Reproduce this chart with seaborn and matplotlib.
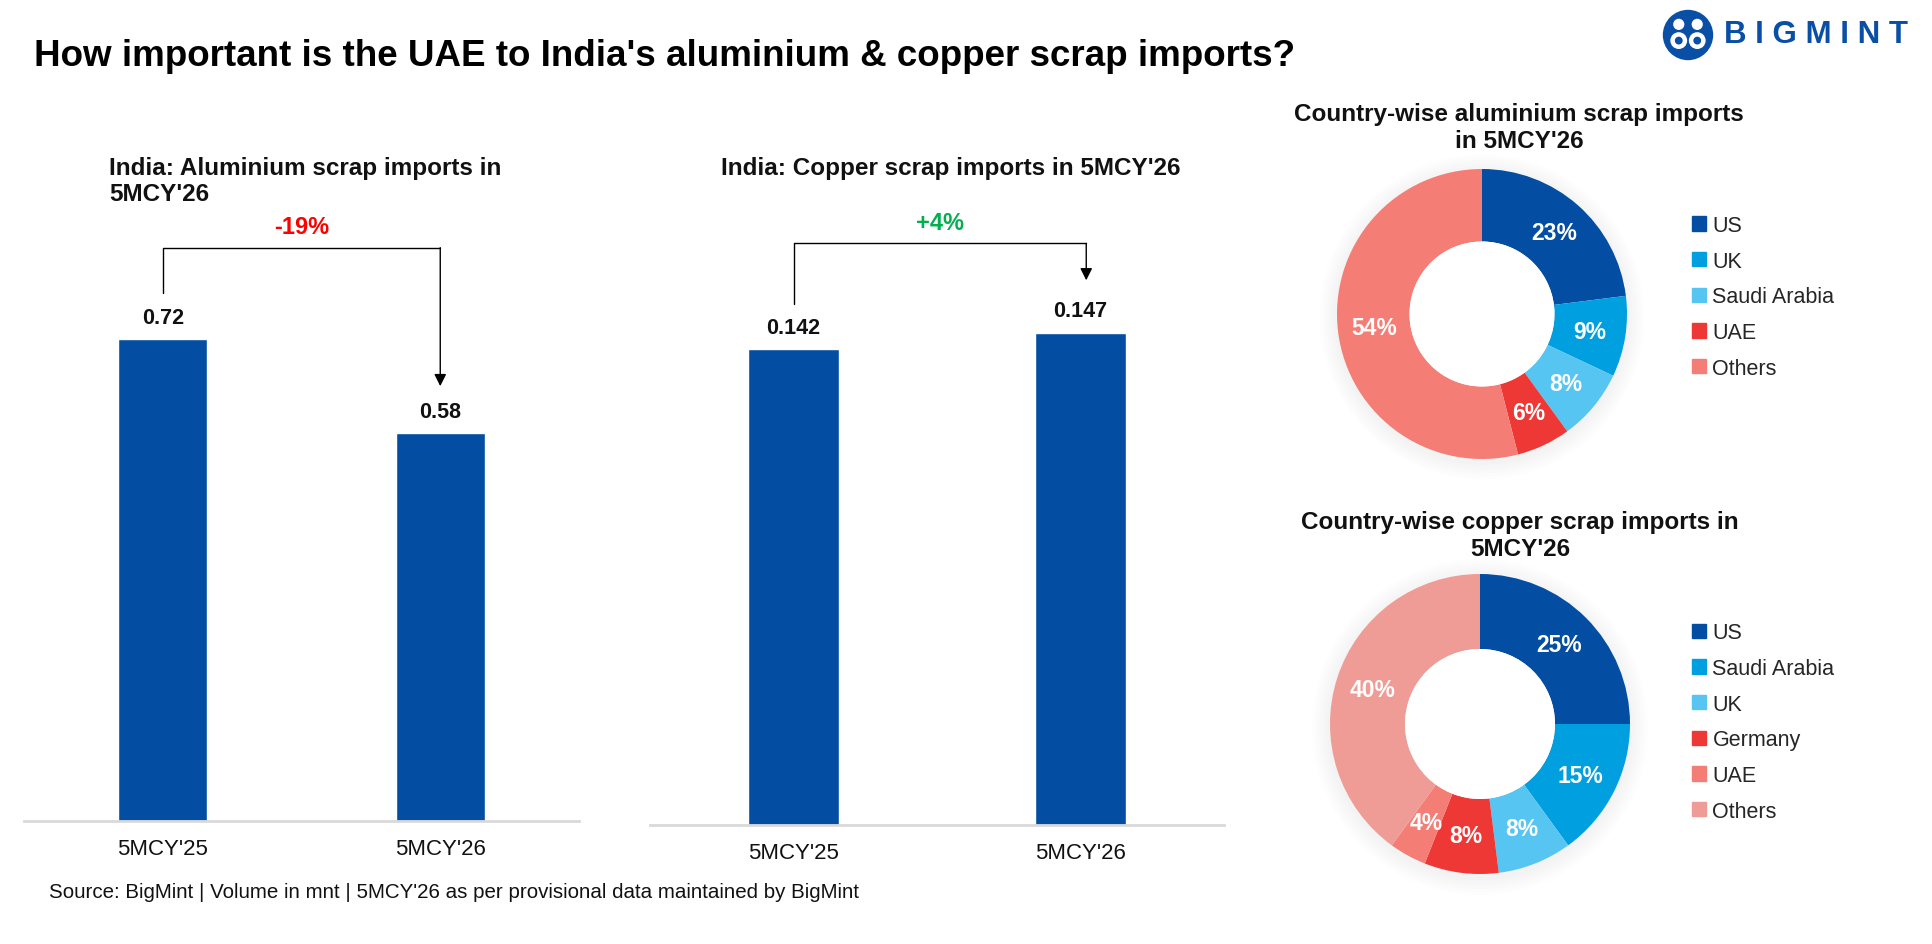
import matplotlib
matplotlib.use('Agg')
import matplotlib.pyplot as plt
import seaborn as sns
import pandas as pd
import numpy as np
from matplotlib.patches import Circle, Patch

# Данные
periods = ["5MCY'25", "5MCY'26"]
alu_volume = [0.72, 0.58]
cu_volume = [0.142, 0.147]
alu_change = '-19%'
cu_change = '+4%'

alu_countries = ['US', 'UK', 'Saudi Arabia', 'UAE', 'Others']
alu_share = [23, 9, 8, 6, 54]
cu_countries = ['US', 'Saudi Arabia', 'UK', 'Germany', 'UAE', 'Others']
cu_share = [25, 15, 8, 8, 4, 40]

BLUE = '#034EA2'
alu_colors = [BLUE, '#009FDF', '#56C5F2', '#EE3835', '#F47E76']
cu_colors = [BLUE, '#009FDF', '#56C5F2', '#EE3835', '#F47E76', '#F09C96']

sns.set_theme(style='white')
plt.rcParams['font.family'] = ['Liberation Sans', 'DejaVu Sans']

W, H = 1932, 945
fig = plt.figure(figsize=(W / 100, H / 100), dpi=100)


def box(x0, y0, x1, y1):
    # пиксельные координаты -> доли фигуры
    return [x0 / W, 1 - y1 / H, (x1 - x0) / W, (y1 - y0) / H]


def bar_panel(rect, values, ymax, fmt, change, change_color, br):
    ax = fig.add_axes(rect)
    df = pd.DataFrame({'period': periods, 'value': values})
    sns.barplot(data=df, x='period', y='value', color=BLUE, width=0.32,
                saturation=1, ax=ax)
    ax.set_xlim(-0.5, 1.5)
    ax.set_ylim(0, ymax)
    ax.set_xlabel('')
    ax.set_ylabel('')
    ax.set_yticks([])
    for s in ['top', 'left', 'right']:
        ax.spines[s].set_visible(False)
    ax.spines['bottom'].set_color('#D9D9D9')
    ax.spines['bottom'].set_linewidth(2)
    ax.tick_params(axis='x', length=0, pad=12, labelsize=16, labelcolor='#111111')
    ax.bar_label(ax.containers[0], labels=[fmt.format(v) for v in values],
                 padding=8, fontsize=15.5, fontweight='bold', color='#111111')
    # скобка со стрелкой
    y_start, y_top, y_end, x_end = br
    ax.plot([0, 0, x_end], [y_start, y_top, y_top], color='black', lw=1)
    ax.annotate('', xy=(x_end, y_end), xytext=(x_end, y_top),
                arrowprops=dict(arrowstyle='-|>', color='black', lw=1,
                                mutation_scale=18, shrinkA=0, shrinkB=0))
    ax.text((0 + x_end) / 2, y_top + ymax * 0.031, change, color=change_color,
            fontsize=17, fontweight='bold', ha='center', va='center')
    return ax


bar_panel(box(24, 153, 579, 822), alu_volume, 1.0, '{:.2f}', alu_change,
          '#FF0000', (0.789, 0.857, 0.650, 1.0))
bar_panel(box(650, 156, 1224, 826), cu_volume, 0.2, '{:.3f}', cu_change,
          '#00B050', (0.1554, 0.1736, 0.1626, 1.02))


def donut(cx, cy, r, shares, colors, names, legend_y):
    pad = 1.25
    ax = fig.add_axes(box(cx - r * pad, cy - r * pad, cx + r * pad, cy + r * pad))
    # мягкая тень
    for i in range(6):
        ax.add_patch(Circle((0, -0.02), 1.0 + 0.02 * (i + 1), color='#000000',
                            alpha=0.006, lw=0))
    wedges, _ = ax.pie(shares, colors=colors, startangle=90, counterclock=False,
                       radius=1, wedgeprops=dict(width=0.5, linewidth=0))
    ax.add_patch(Circle((0, 0), 0.5, color='white', lw=0, zorder=3))
    ax.set_xlim(-pad, pad)
    ax.set_ylim(-pad, pad)
    ax.set_aspect('equal')
    ang = 90 - np.cumsum([0] + shares[:-1]) * 3.6 - np.array(shares) * 1.8
    for a, s in zip(ang, shares):
        t = np.deg2rad(a)
        ax.text(0.75 * np.cos(t), 0.75 * np.sin(t), f'{s}%', color='white',
                fontsize=16.5, fontweight='bold', ha='center', va='center', zorder=4)
    handles = [Patch(color=c) for c in colors]
    fig.legend(handles, names, loc='center left', frameon=False,
               bbox_to_anchor=(1692 / W, 1 - legend_y / H), fontsize=15.5,
               handlelength=0.65, handleheight=0.65, handletextpad=0.3,
               labelspacing=0.68, borderpad=0, borderaxespad=0)


donut(1482, 315, 145, alu_share, alu_colors, alu_countries, 298)
donut(1480, 725, 150, cu_share, cu_colors, cu_countries, 723)

# Заголовки
fig.text(34 / W, 1 - 57 / H,
         "How important is the UAE to India's aluminium & copper scrap imports?",
         fontsize=26.5, fontweight='bold', va='center', ha='left', color='black')
fig.text(109 / W, 1 - 181.5 / H, "India: Aluminium scrap imports in\n5MCY'26",
         fontsize=17.5, fontweight='bold', va='center', ha='left',
         linespacing=1.2, color='#111111')
fig.text(951 / W, 1 - 168 / H, "India: Copper scrap imports in 5MCY'26",
         fontsize=17.5, fontweight='bold', va='center', ha='center', color='#111111')
fig.text(1519 / W, 1 - 128 / H, "Country-wise aluminium scrap imports\nin 5MCY'26",
         fontsize=17.5, fontweight='bold', va='center', ha='center',
         linespacing=1.25, color='#111111')
fig.text(1520 / W, 1 - 536 / H, "Country-wise copper scrap imports in\n5MCY'26",
         fontsize=17.5, fontweight='bold', va='center', ha='center',
         linespacing=1.25, color='#111111')
fig.text(49 / W, 1 - 893 / H,
         "Source: BigMint | Volume in mnt | 5MCY'26 as per provisional data maintained by BigMint",
         fontsize=14.8, va='center', ha='left', color='#111111')

# Логотип
logo = fig.add_axes(box(1660, 8, 1716, 64))
logo.set_xlim(-1, 1)
logo.set_ylim(-1, 1)
logo.set_aspect('equal')
logo.axis('off')
logo.add_patch(Circle((0, 0), 0.9, color='#0A4FA6', lw=0))
for x in (-0.33, 0.33):
    logo.add_patch(Circle((x, 0.38), 0.2, color='white', lw=0))
    logo.add_patch(Circle((x, -0.2), 0.3, color='white', lw=0))
    logo.add_patch(Circle((x, -0.2), 0.14, color='#0A4FA6', lw=0))
fig.text(1724 / W, 1 - 35 / H, 'B I G M I N T', fontsize=22.5, fontweight='bold',
         color='#0A4FA6', va='center', ha='left')

fig.savefig('out.png', dpi=100, facecolor='white')
